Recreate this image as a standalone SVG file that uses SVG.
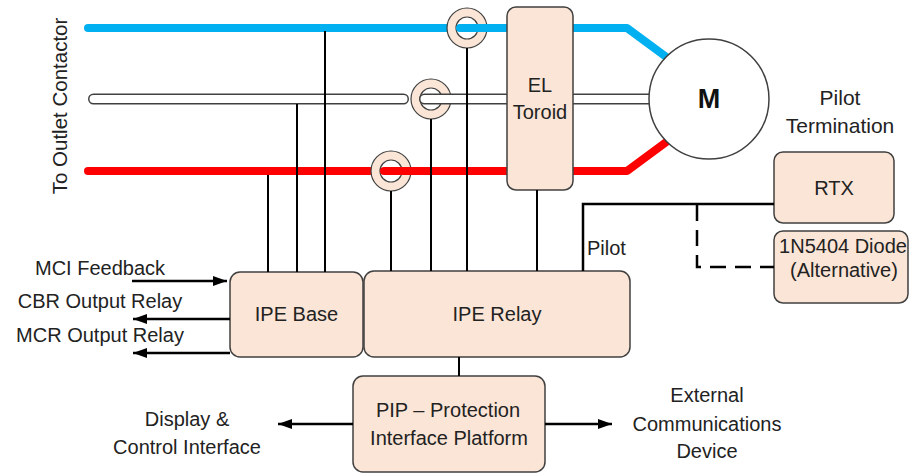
<svg xmlns="http://www.w3.org/2000/svg" width="912" height="473" viewBox="0 0 912 473">
  <style>
    .box { fill: #fbe5d6; stroke: #404040; stroke-width: 1.5; }
    .ring { fill: #fbe5d6; stroke: #404040; stroke-width: 1.2; fill-rule: evenodd; }
    .txt { font-family: "Liberation Sans", Arial, sans-serif; font-size: 20px; fill: #222; text-anchor: middle; }
    .wire { fill: none; stroke: #000; stroke-width: 2; }
    .arrow { fill: none; stroke: #000; stroke-width: 2.5; marker-end: url(#ah); }
    .blue { fill: none; stroke: #00b0f0; stroke-width: 8; stroke-linecap: round; stroke-linejoin: round; }
    .red { fill: none; stroke: #ff0000; stroke-width: 8; stroke-linecap: round; stroke-linejoin: round; }
    .wout { fill: none; stroke: #404040; stroke-width: 11; stroke-linecap: round; }
    .win { fill: none; stroke: #fff; stroke-width: 8; stroke-linecap: round; }
  </style>
  <defs>
    <marker id="ah" markerUnits="userSpaceOnUse" markerWidth="14" markerHeight="10" refX="14" refY="5" orient="auto">
      <path d="M0,0 L14,5 L0,10 z" fill="#000"/>
    </marker>
  </defs>
  <rect width="912" height="473" fill="#fff"/>

  <!-- conductors passing behind the current transformers -->
  <g id="conductors-back">
    <path class="blue" d="M88,28 L446,28"/>
    <path class="wout" d="M93.5,99 L403.5,99"/>
    <path class="win" d="M93.5,99 L403.5,99"/>
    <path class="red" d="M88,171 L370,171"/>
  </g>

  <g id="ct-blue">
    <path class="ring" d="M447,28 a20,20 0 1,0 40,0 a20,20 0 1,0 -40,0 z M456,28 a11,11 0 1,0 22,0 a11,11 0 1,0 -22,0 z"/>
  </g>
  <g id="ct-white">
    <path class="ring" d="M411,99 a20,20 0 1,0 40,0 a20,20 0 1,0 -40,0 z M420,99 a11,11 0 1,0 22,0 a11,11 0 1,0 -22,0 z"/>
  </g>
  <g id="ct-red">
    <path class="ring" d="M371,171 a20,20 0 1,0 40,0 a20,20 0 1,0 -40,0 z M380,171 a11,11 0 1,0 22,0 a11,11 0 1,0 -22,0 z"/>
  </g>

  <!-- conductors continuing through the transformers to the motor -->
  <g id="conductors-front">
    <path class="blue" d="M460,28 L627,28 L669,59"/>
    <path class="wout" d="M424.5,99 L680,99"/>
    <path class="win" d="M424.5,99 L680,99"/>
    <path class="red" d="M384,171 L627,171 L669,140"/>
  </g>

  <g id="el-toroid">
    <rect class="box" x="507" y="7" width="66" height="183" rx="9"/>
    <text class="txt" x="540" y="92">EL</text>
    <text class="txt" x="540" y="119">Toroid</text>
  </g>

  <g id="motor">
    <circle cx="709" cy="99" r="60" fill="#fff" stroke="#404040" stroke-width="1.5"/>
    <text class="txt" x="709" y="108" style="font-weight:bold;font-size:27px;fill:#111">M</text>
  </g>

  <g id="rtx">
    <rect class="box" x="774" y="152" width="120" height="71" rx="9"/>
    <text class="txt" x="834" y="195">RTX</text>
  </g>

  <g id="diode">
    <rect class="box" x="774" y="231" width="134" height="72" rx="9"/>
    <text class="txt" x="843" y="253">1N5404 Diode</text>
    <text class="txt" x="844" y="277">(Alternative)</text>
  </g>

  <g id="ipe-base">
    <rect class="box" x="230" y="272" width="133" height="85" rx="10"/>
    <text class="txt" x="296.5" y="321">IPE Base</text>
  </g>

  <g id="ipe-relay">
    <rect class="box" x="364" y="271" width="266" height="86" rx="10"/>
    <text class="txt" x="497" y="321">IPE Relay</text>
  </g>

  <g id="pip">
    <rect class="box" x="353" y="376" width="192" height="96" rx="10"/>
    <text class="txt" x="448" y="417">PIP – Protection</text>
    <text class="txt" x="449" y="445">Interface Platform</text>
  </g>

  <g id="connectors">
    <path class="wire" d="M325,31 V272"/>
    <path class="wire" d="M297,104 V272"/>
    <path class="wire" d="M268,175 V272"/>
    <path class="wire" d="M391,191 V271"/>
    <path class="wire" d="M431,119 V271"/>
    <path class="wire" d="M467,48 V271"/>
    <path class="wire" d="M537,190 V271"/>
    <path class="wire" d="M459,357 V376"/>
    <path class="wire" d="M583,271 V204 H774" style="stroke-width:2.5"/>
    <path class="wire" d="M697,205 V267 H774" style="stroke-width:2.5;stroke-dasharray:16 9"/>
    <path class="arrow" d="M132,281 L227,281"/>
    <path class="arrow" d="M230,319 L133,319"/>
    <path class="arrow" d="M230,353 L133,353"/>
    <path class="arrow" d="M353,424 L278,424"/>
    <path class="arrow" d="M545,424 L612,424"/>
  </g>

  <g id="labels">
    <text class="txt" transform="translate(67,106) rotate(-90)" style="font-size:20.5px">To Outlet Contactor</text>
    <text class="txt" x="100" y="275">MCI Feedback</text>
    <text class="txt" x="100" y="308">CBR Output Relay</text>
    <text class="txt" x="100" y="342">MCR Output Relay</text>
    <text class="txt" x="187" y="426">Display &amp;</text>
    <text class="txt" x="187" y="454">Control Interface</text>
    <text class="txt" x="707" y="402">External</text>
    <text class="txt" x="707" y="431">Communications</text>
    <text class="txt" x="707" y="458">Device</text>
    <text class="txt" x="840" y="105" style="font-size:21px">Pilot</text>
    <text class="txt" x="840" y="133" style="font-size:21px">Termination</text>
    <text class="txt" x="587" y="255" style="text-anchor:start">Pilot</text>
  </g>
</svg>
